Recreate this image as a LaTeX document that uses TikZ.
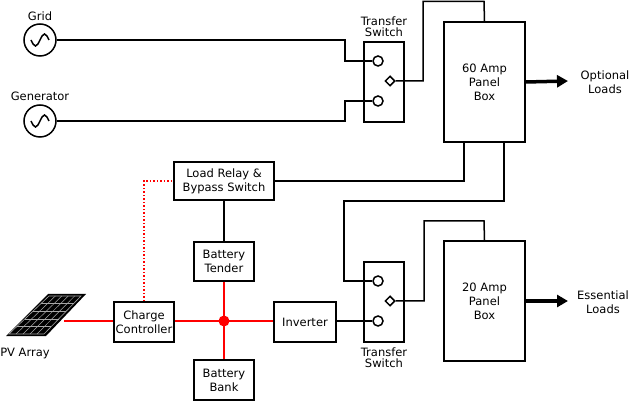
\documentclass[tikz,border=0pt]{standalone}
\usepackage{fontspec}
\setmainfont{DejaVu Sans}
\usetikzlibrary{shapes.geometric,arrows.meta}
\begin{document}
\begin{tikzpicture}[x=1pt,y=-1pt,
  box/.style={draw,line width=1.5pt,inner sep=0pt,align=center,font=\fontsize{11.5}{14}\selectfont},
  w/.style={line width=1.5pt},
  r/.style={line width=1.5pt,red},
  lbl/.style={align=center,font=\fontsize{11.5}{14}\selectfont},
  term/.style={circle,draw,line width=1.5pt,minimum size=10pt,inner sep=0pt,fill=white},
  dia/.style={diamond,draw,line width=1.5pt,minimum size=10pt,inner sep=0pt,fill=white},
  src/.style={circle,draw,line width=1.5pt,minimum size=32pt,inner sep=0pt},
  big/.style={-{Triangle[length=11pt,width=12pt]},line width=3.5pt}]
\useasboundingbox (0,0) rectangle (629,403);
% sources
\node[src] (grid) at (40,40) {};
\node[src] (gen) at (40,121) {};
\foreach \s in {grid,gen}{\draw[line width=1.5pt] ([xshift=-9pt]\s.center) sin ([xshift=-4.5pt,yshift=-6pt]\s.center) cos (\s.center) sin ([xshift=4.5pt,yshift=6pt]\s.center) cos ([xshift=9pt]\s.center);}
\node[lbl] (gridl) at (40,16) {Grid};
\node[lbl] (genl) at (40,96) {Generator};
% transfer switch 1
\node[box,minimum width=40pt,minimum height=80pt] (ts1) at (384,82) {};
\node[lbl] (ts1l) at (384,27) {Transfer\\[-3pt]Switch};
\node[term] (a1) at (378,61) {};
\node[term] (b1) at (378,101) {};
\node[dia] (d1) at (390,81) {};
\node[box,minimum width=81pt,minimum height=120pt] (p60) at (484.5,82) {60 Amp\\Panel\\Box};
\draw[w] (grid.east) -- (345,40) -- (345,61) -- (a1.west);
\draw[w] (gen.east) -- (345,121) -- (345,101) -- (b1.west);
\draw[w] (d1.east) -- (423,81) -- (423,1.5) -- (484,1.5) -- (p60.north);
\draw[big] (p60.east) -- (568,81);
\node[lbl] (ol) at (605,82) {Optional\\Loads};
% transfer switch 2
\node[box,minimum width=40pt,minimum height=80pt] (ts2) at (384,302) {};
\node[lbl] (ts2l) at (384,358) {Transfer\\[-3pt]Switch};
\node[term] (a2) at (378,281) {};
\node[term] (b2) at (378,321) {};
\node[dia] (d2) at (390,301) {};
\node[box,minimum width=81pt,minimum height=120pt] (p20) at (484.5,301) {20 Amp\\Panel\\Box};
\draw[w] (d2.east) -- (424,301) -- (424,221) -- (484,221) -- (p20.north);
\draw[big] (p20.east) -- (568,301);
\node[lbl] (el) at (603,302) {Essential\\Loads};
% other boxes
\node[box,minimum width=100pt,minimum height=38pt] (lr) at (224,181) {Load Relay \&\\Bypass Switch};
\node[box,minimum width=60pt,minimum height=39pt] (bt) at (224,261.5) {Battery\\Tender};
\node[box,minimum width=60pt,minimum height=40pt] (bb) at (224,380) {Battery\\Bank};
\node[box,minimum width=60pt,minimum height=40pt] (cc) at (144,322) {Charge\\Controller};
\node[box,minimum width=62pt,minimum height=40pt] (inv) at (305,322) {Inverter};
\coordinate (j) at (224,321);
\draw[w] (464,142) -- (464,181) -- (lr.east);
\draw[w] (504,142) -- (504,201) -- (344,201) -- (344,281) -- (a2.west);
\draw[w] (inv.east |- b2) -- (b2.west);
\draw[w] (lr.south) -- (bt.north);
\draw[r] (bt.south) -- (bb.north);
\draw[r] (cc.east |- j) -- (inv.west |- j);
\fill[red] (j) circle (5.5pt);
\draw[red,line width=1.5pt,dotted] (cc.north) -- (144,181) -- (lr.west);
% PV array
\begin{scope}[shift={(6,284)}]
\fill[black] (0,52) -- (40,52) -- (80,10) -- (42,10) -- cycle;
\draw[gray!70,line width=0.6pt] (3,50) -- (38,50) -- (75,12) -- (43,12) -- cycle;
\foreach \t in {0.2,0.4,0.6,0.8}{\draw[gray!70,line width=0.5pt] ({3+40*\t},{50-38*\t}) -- ({38+37*\t},{50-38*\t});}
\foreach \t in {0.2,0.4,0.6,0.8}{\draw[gray!70,line width=0.5pt] ({3+35*\t},50) -- ({43+32*\t},12);}
\coordinate (pvr) at (58,37);
\end{scope}
\node[lbl] (pvl) at (25,354) {PV Array};
\draw[r] (pvr) -- (cc.west |- j);
\end{tikzpicture}
\end{document}
